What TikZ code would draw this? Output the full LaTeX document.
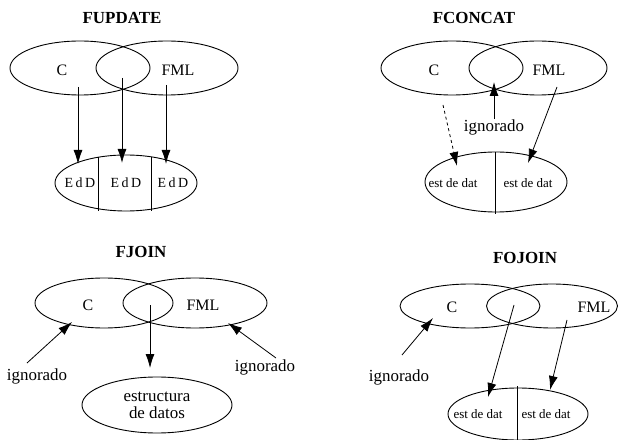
\documentclass[tikz,border=0pt]{standalone}
\usepackage{fontspec}
\setmainfont{Liberation Serif}
\usetikzlibrary{shapes.geometric,arrows.meta}
\begin{document}
\begin{tikzpicture}[x=1bp,y=-1bp,
  ell/.style={draw,ellipse,inner sep=0pt,line width=0.9bp},
  ttl/.style={font=\fontsize{17}{19}\bfseries\selectfont,inner sep=0pt},
  lbl/.style={font=\fontsize{16}{18}\selectfont,inner sep=0pt},
  ign/.style={font=\fontsize{17}{19}\selectfont,inner sep=0pt},
  small/.style={font=\fontsize{13}{15}\selectfont,inner sep=0pt},
  arr/.style={line width=0.8bp,-{Latex[length=14bp,width=9bp]}},
  divline/.style={line width=0.8bp}]
\useasboundingbox (0,0) rectangle (619,440);

% ---------------- FUPDATE ----------------
\node[ttl] (t1) at (122,18) {FUPDATE};
\node[ell,minimum width=140bp,minimum height=54bp] (a1) at (80,68) {};
\node[ell,minimum width=142bp,minimum height=54bp] (b1) at (167,68) {};
\node[lbl] (ac1) at (62,70) {C};
\node[lbl] (bc1) at (178,70) {FML};
\node[ell,minimum width=142bp,minimum height=56bp] (e1) at (126,183) {};
\draw[divline] (98,157) -- (98,211);
\draw[divline] (151,157) -- (151,211);
\node[small,font=\fontsize{14}{16}\selectfont] (d11) at (80,183) {E\kern2.5bp d\kern2.5bp D};
\node[small,font=\fontsize{14}{16}\selectfont] (d12) at (126,183) {E\kern2.5bp d\kern2.5bp D};
\node[small,font=\fontsize{14}{16}\selectfont] (d13) at (173,183) {E\kern2.5bp d\kern2.5bp D};
\coordinate (s11) at (78,87);  \coordinate (p11) at (78,164);
\coordinate (s12) at (122,78); \coordinate (p12) at (122,163);
\coordinate (s13) at (166,85); \coordinate (p13) at (166,164);
\draw[arr] (s11) -- (p11);
\draw[arr] (s12) -- (p12);
\draw[arr] (s13) -- (p13);

% ---------------- FCONCAT ----------------
\node[ttl] (t2) at (474,18) {FCONCAT};
\node[ell,minimum width=142bp,minimum height=54bp] (a2) at (452,68) {};
\node[ell,minimum width=138bp,minimum height=54bp] (b2) at (538,68) {};
\node[lbl] (ac2) at (434,70) {C};
\node[lbl] (bc2) at (549,70) {FML};
\node[ell,minimum width=142bp,minimum height=60bp] (e2) at (496,182) {};
\draw[divline] (495,152) -- (495,214);
\node[small] (d21) at (453,183) {est de dat};
\node[small] (d22) at (528,183) {est de dat};
\node[ign] (g2) at (494,127) {ignorado};
\coordinate (s21) at (443,105); \coordinate (p21) at (457,166);
\coordinate (p22) at (494,82);
\coordinate (s23) at (557,87);  \coordinate (p23) at (528,163);
\draw[arr,dashed] (s21) -- (p21);
\draw[arr] (g2.north) -- (p22);
\draw[arr] (s23) -- (p23);

% ---------------- FJOIN ----------------
\node[ttl] (t3) at (141,252) {FJOIN};
\node[ell,minimum width=138bp,minimum height=50bp] (a3) at (104,303) {};
\node[ell,minimum width=144bp,minimum height=50bp] (b3) at (195,303) {};
\node[lbl] (ac3) at (88,305) {C};
\node[lbl] (bc3) at (203,305) {FML};
\node[ell,minimum width=150bp,minimum height=56bp,align=center,
      font=\fontsize{17}{17}\selectfont] (e3) at (157,405) {estructura\\de datos};
\node[ign] (g31) at (37,376) {ignorado};
\node[ign] (g32) at (265,367) {ignorado};
\coordinate (s31) at (27,363);  \coordinate (p31) at (72,322);
\coordinate (s32) at (150,305); \coordinate (p32) at (150,368);
\coordinate (s33) at (276,358); \coordinate (p33) at (228,323);
\draw[arr] (s31) -- (p31);
\draw[arr] (s32) -- (p32);
\draw[arr] (s33) -- (p33);

% ---------------- FOJOIN ----------------
\node[ttl] (t4) at (525,258) {FOJOIN};
\node[ell,minimum width=140bp,minimum height=44bp] (a4) at (470,306) {};
\node[ell,minimum width=131bp,minimum height=44bp] (b4) at (552,306) {};
\node[lbl] (ac4) at (452,307) {C};
\node[lbl] (bc4) at (594,307) {FML};
\node[ell,minimum width=140bp,minimum height=52bp] (e4) at (518,414) {};
\draw[divline] (517,386) -- (517,440);
\node[small] (d41) at (478,414) {est de dat};
\node[small] (d42) at (546,414) {est de dat};
\node[ign] (g4) at (399,377) {ignorado};
\coordinate (s41) at (402,355); \coordinate (p41) at (433,318);
\coordinate (s42) at (514,305); \coordinate (p42) at (488,397);
\coordinate (s43) at (567,320); \coordinate (p43) at (550,390);
\draw[arr] (s41) -- (p41);
\draw[arr] (s42) -- (p42);
\draw[arr] (s43) -- (p43);
\end{tikzpicture}
\end{document}
